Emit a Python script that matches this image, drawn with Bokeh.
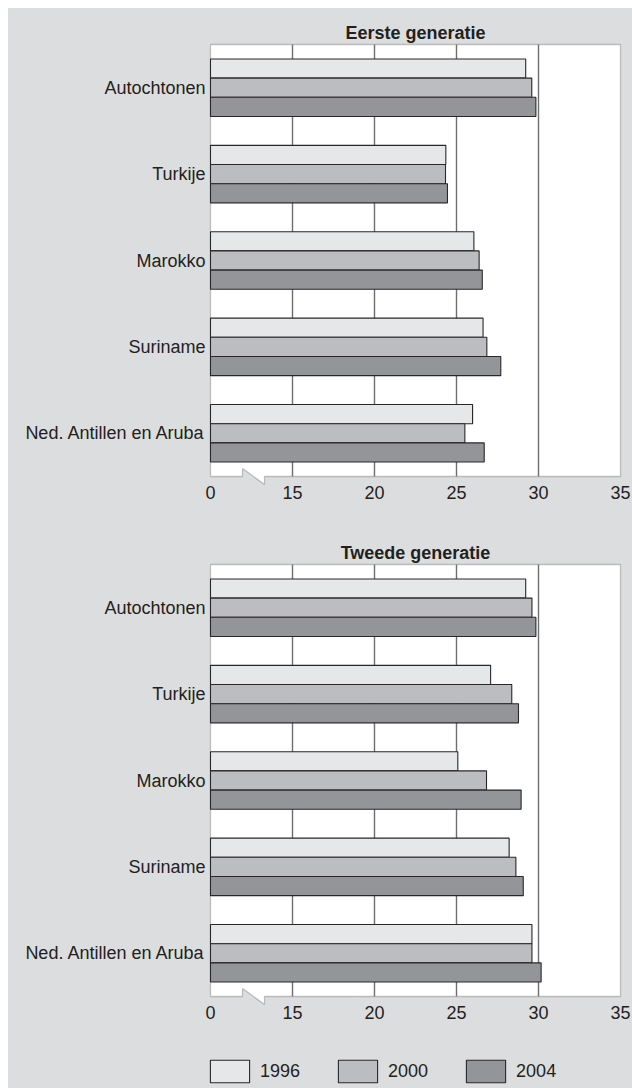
from bokeh.plotting import figure
from bokeh.models import Range1d, FixedTicker, PolyAnnotation, Legend, LegendItem, ColumnDataSource
from bokeh.layouts import column
from bokeh.embed import file_html
from bokeh.resources import INLINE

# ---------------- data ----------------
CATEGORIES = ["Autochtonen", "Turkije", "Marokko", "Suriname", "Ned. Antillen en Aruba"]
YEARS = ["1996", "2000", "2004"]

TITLE_1 = "Eerste generatie"
EERSTE_1996 = [29.22, 24.35, 26.06, 26.62, 25.98]
EERSTE_2000 = [29.59, 24.33, 26.38, 26.85, 25.51]
EERSTE_2004 = [29.84, 24.45, 26.57, 27.70, 26.69]

TITLE_2 = "Tweede generatie"
TWEEDE_1996 = [29.22, 27.08, 25.08, 28.21, 29.60]
TWEEDE_2000 = [29.60, 28.37, 26.83, 28.62, 29.60]
TWEEDE_2004 = [29.84, 28.78, 28.94, 29.07, 30.16]

# axis: broken at the start; the origin "0" is drawn where 10 would be
AXIS_START = 10
AXIS_END = 35
TICKS = [10, 15, 20, 25, 30, 35]
TICK_LABELS = ["0", "15", "20", "25", "30", "35"]
GRID_TICKS = [15, 20, 25, 30]

# ---------------- style ----------------
BG = "#dcdddf"
TEXT = "#231f20"
FILLS = ["#e6e7e8", "#bcbdc0", "#939598"]
BAR_LINE = "#2a2728"
GRID = "#6d6e71"
FRAME = "#444547"
FONT = "Liberation Sans"
BAR_H = 0.222

BOX_W = 410          # px of the white plotting box
BOX_H = 432
PAD_SIDE = 2         # px of grey kept inside the frame around the box
PAD_TOP = 2
PAD_BOTTOM = 10      # room for the axis-break notch
LEFT = 200
PX_X = BOX_W / (AXIS_END - AXIS_START)
N = len(CATEGORIES)
PX_Y = BOX_H / N
BREAK_LEFT = AXIS_START + 32 / PX_X
BREAK_RIGHT = AXIS_START + 54 / PX_X
BREAK_DEPTH = 8 / PX_Y
FRAME_W = BOX_W + 2 * PAD_SIDE


def make_panel(title, series, height, top):
    frame_h = BOX_H + PAD_TOP + PAD_BOTTOM
    p = figure(width=624, height=height,
               x_range=Range1d(AXIS_START - PAD_SIDE / PX_X, AXIS_END + PAD_SIDE / PX_X),
               y_range=Range1d(-0.5 - PAD_BOTTOM / PX_Y, N - 0.5 + PAD_TOP / PX_Y),
               output_backend="svg", toolbar_location=None,
               min_border_left=LEFT, min_border_right=624 - LEFT - FRAME_W,
               min_border_top=top, min_border_bottom=height - top - frame_h,
               background_fill_color=BG, border_fill_color=BG,
               outline_line_color=None, title=title)

    p.title.align = "center"
    p.title.text_font = FONT
    p.title.text_font_size = "18px"
    p.title.text_font_style = "bold"
    p.title.text_color = TEXT
    p.title.standoff = 0

    # white plotting box with the axis-break notch at the bottom
    y0 = -0.5
    box = PolyAnnotation(
        xs=[AXIS_START, AXIS_END, AXIS_END, BREAK_RIGHT, BREAK_RIGHT,
            BREAK_LEFT, BREAK_LEFT, AXIS_START],
        ys=[N - 0.5, N - 0.5, y0, y0, y0 - BREAK_DEPTH,
            y0 + BREAK_DEPTH, y0, y0],
        fill_color="white", fill_alpha=1.0,
        line_color=FRAME, line_width=1.3, level="image")
    p.add_layout(box)

    # vertical grid lines limited to the white box
    p.segment(x0=GRID_TICKS, x1=GRID_TICKS, y0=[-0.5] * len(GRID_TICKS),
              y1=[N - 0.5] * len(GRID_TICKS), line_color=GRID, line_width=1.4)

    centers = [N - 1 - i for i in range(N)]
    for j, (yr, vals) in enumerate(zip(YEARS, series)):
        off = (1 - j) * BAR_H
        src = ColumnDataSource(dict(
            y=[c + off for c in centers], right=vals, cat=CATEGORIES))
        p.hbar(y="y", left=AXIS_START, right="right", height=BAR_H,
               source=src, fill_color=FILLS[j], line_color=BAR_LINE,
               line_width=1.1)

    p.xgrid.visible = False
    p.ygrid.visible = False

    xa = p.xaxis[0]
    xa.ticker = FixedTicker(ticks=TICKS)
    xa.major_label_overrides = {t: l for t, l in zip(TICKS, TICK_LABELS)}
    xa.axis_line_color = None
    xa.major_tick_line_color = None
    xa.minor_tick_line_color = None
    xa.major_tick_out = 0
    xa.major_tick_in = 0
    xa.major_label_standoff = -1
    xa.major_label_text_font = FONT
    xa.major_label_text_font_size = "18px"
    xa.major_label_text_color = TEXT

    ya = p.yaxis[0]
    ya.ticker = FixedTicker(ticks=centers)
    ya.major_label_overrides = {c: cat for c, cat in zip(centers, CATEGORIES)}
    ya.axis_line_color = None
    ya.major_tick_line_color = None
    ya.minor_tick_line_color = None
    ya.major_tick_out = 0
    ya.major_tick_in = 0
    ya.major_label_standoff = 3
    ya.major_label_text_font = FONT
    ya.major_label_text_font_size = "18px"
    ya.major_label_text_color = TEXT
    return p


p1 = make_panel(TITLE_1, [EERSTE_1996, EERSTE_2000, EERSTE_2004], 512, 34)
p2 = make_panel(TITLE_2, [TWEEDE_1996, TWEEDE_2000, TWEEDE_2004], 520, 42)

# legend strip (shares the series colours; its bars are the legend swatches)
p3 = figure(width=624, height=48, output_backend="svg", toolbar_location=None,
            x_axis_location=None, y_axis_location=None,
            x_range=Range1d(0, 1), y_range=Range1d(0, 1),
            min_border_left=LEFT, min_border_right=624 - LEFT - FRAME_W,
            min_border_top=0, min_border_bottom=0,
            background_fill_color=BG, border_fill_color=BG, outline_line_color=None)
p3.xgrid.visible = False
p3.ygrid.visible = False
items = []
for j, yr in enumerate(YEARS):
    src = ColumnDataSource(dict(y=[-5.0], left=[-5.0], right=[-4.0], year=[yr]))
    r = p3.hbar(y="y", left="left", right="right", height=1, source=src,
                fill_color=FILLS[j], line_color=BAR_LINE, line_width=1.1)
    items.append(LegendItem(label=yr, renderers=[r], index=0))
lg = Legend(items=items, location=(-3, -2), orientation="horizontal",
            glyph_width=49, glyph_height=28, label_height=38, label_standoff=6,
            spacing=33, padding=0, margin=0,
            background_fill_alpha=0, border_line_alpha=0,
            label_text_font=FONT, label_text_font_size="18px",
            label_text_color=TEXT)
p3.add_layout(lg)

layout = column(p1, p2, p3, spacing=0, margin=(8, 0, 0, 8),
                styles={"background-color": BG})
open("out.html", "w").write(file_html(layout, INLINE))
